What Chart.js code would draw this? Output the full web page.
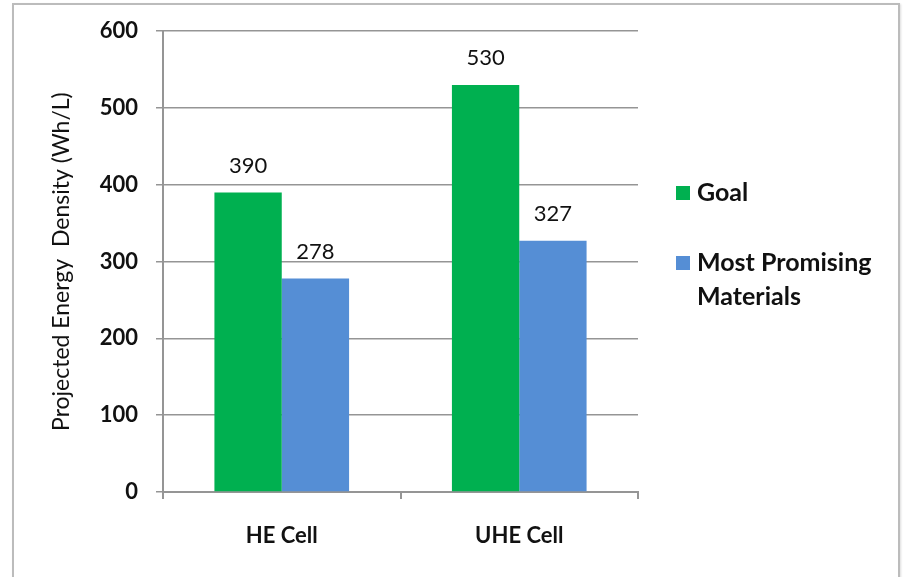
<!DOCTYPE html>
<html>
<head>
<meta charset="utf-8">
<script src="https://cdn.jsdelivr.net/npm/chart.js@4"></script>
<style>
html,body{margin:0;padding:0;background:#fff;width:903px;height:577px;overflow:hidden;}
#frame{position:absolute;left:12px;top:3px;width:884px;height:700px;border:2px solid #bcbcbc;border-bottom:none;box-shadow:1px 1px 2px #ddd;}
#c{position:absolute;left:0;top:0;}
</style>
</head>
<body>
<div id="frame"></div>
<canvas id="c" width="903" height="577"></canvas>
<script>
const categories = ['HE Cell', 'UHE Cell'];
const goalValues = [390, 530];
const promisingValues = [278, 327];
const seriesNames = ['Goal', 'Most Promising Materials'];
const yMin = 0, yMax = 600, yStep = 100;
const yTitle = 'Projected Energy  Density (Wh/L)';

const FONT = 'Lato, "Open Sans", sans-serif';
const GREEN = '#00B050';
const BLUE = '#558ED5';
const GRID = '#959595';

const valueLabels = {
  id: 'valueLabels',
  afterDatasetsDraw(chart) {
    const ctx = chart.ctx;
    ctx.save();
    ctx.font = '22px ' + FONT;
    ctx.fillStyle = '#111';
    ctx.textAlign = 'center';
    ctx.textBaseline = 'middle';
    chart.data.datasets.forEach((ds, i) => {
      chart.getDatasetMeta(i).data.forEach((el, j) => {
        ctx.fillText(String(ds.data[j]), el.x, el.y - 27);
      });
    });
    ctx.restore();
  }
};

const sideLegend = {
  id: 'sideLegend',
  afterDraw(chart) {
    const ctx = chart.ctx;
    ctx.save();
    ctx.font = 'bold 25px ' + FONT;
    ctx.textBaseline = 'middle';
    ctx.fillStyle = '#111';
    const x0 = 676, tx = 697, maxW = 190;
    const starts = [193, 263];
    chart.data.datasets.forEach((ds, i) => {
      const y = starts[i];
      ctx.fillStyle = ds.backgroundColor;
      ctx.fillRect(x0, y - 7, 14, 14);
      ctx.fillStyle = '#111';
      const words = ds.label.split(' ');
      const lines = [];
      let cur = '';
      words.forEach(w => {
        const t = cur ? cur + ' ' + w : w;
        if (ctx.measureText(t).width > maxW && cur) { lines.push(cur); cur = w; } else cur = t;
      });
      lines.push(cur);
      lines.forEach((ln, k) => ctx.fillText(ln, tx, y + k * 34));
    });
    ctx.restore();
  }
};

new Chart(document.getElementById('c'), {
  type: 'bar',
  data: {
    labels: categories,
    datasets: [
      { label: seriesNames[0], data: goalValues, backgroundColor: GREEN, borderWidth: 0 },
      { label: seriesNames[1], data: promisingValues, backgroundColor: BLUE, borderWidth: 0 }
    ]
  },
  options: {
    responsive: false,
    devicePixelRatio: 1,
    animation: false,
    layout: { padding: { left: 48, right: 265, top: 20, bottom: 0 } },
    datasets: { bar: { categoryPercentage: 0.567, barPercentage: 1.0 } },
    plugins: {
      legend: { display: false },
      tooltip: { enabled: false }
    },
    scales: {
      x: {
        grid: { display: true, drawOnChartArea: false, drawTicks: true, tickLength: 7, color: GRID, lineWidth: 2 },
        border: { display: true, color: GRID, width: 2 },
        ticks: { font: { family: FONT, size: 22, weight: 'bold' }, color: '#111', padding: 24 },
        afterFit(s) { s.height = 85; }
      },
      y: {
        min: yMin, max: yMax,
        ticks: { stepSize: yStep, font: { family: FONT, size: 22, weight: 'bold' }, color: '#111', padding: 18 },
        grid: { color: GRID, lineWidth: 1.5, tickLength: 7 },
        border: { display: true, color: GRID, width: 2 },
        title: { display: true, text: yTitle, font: { family: FONT, size: 23 }, color: '#111', padding: { top: 0, bottom: 0 } },
        afterFit(s) { s.width = 115; }
      }
    }
  },
  plugins: [valueLabels, sideLegend]
});
</script>
</body>
</html>
